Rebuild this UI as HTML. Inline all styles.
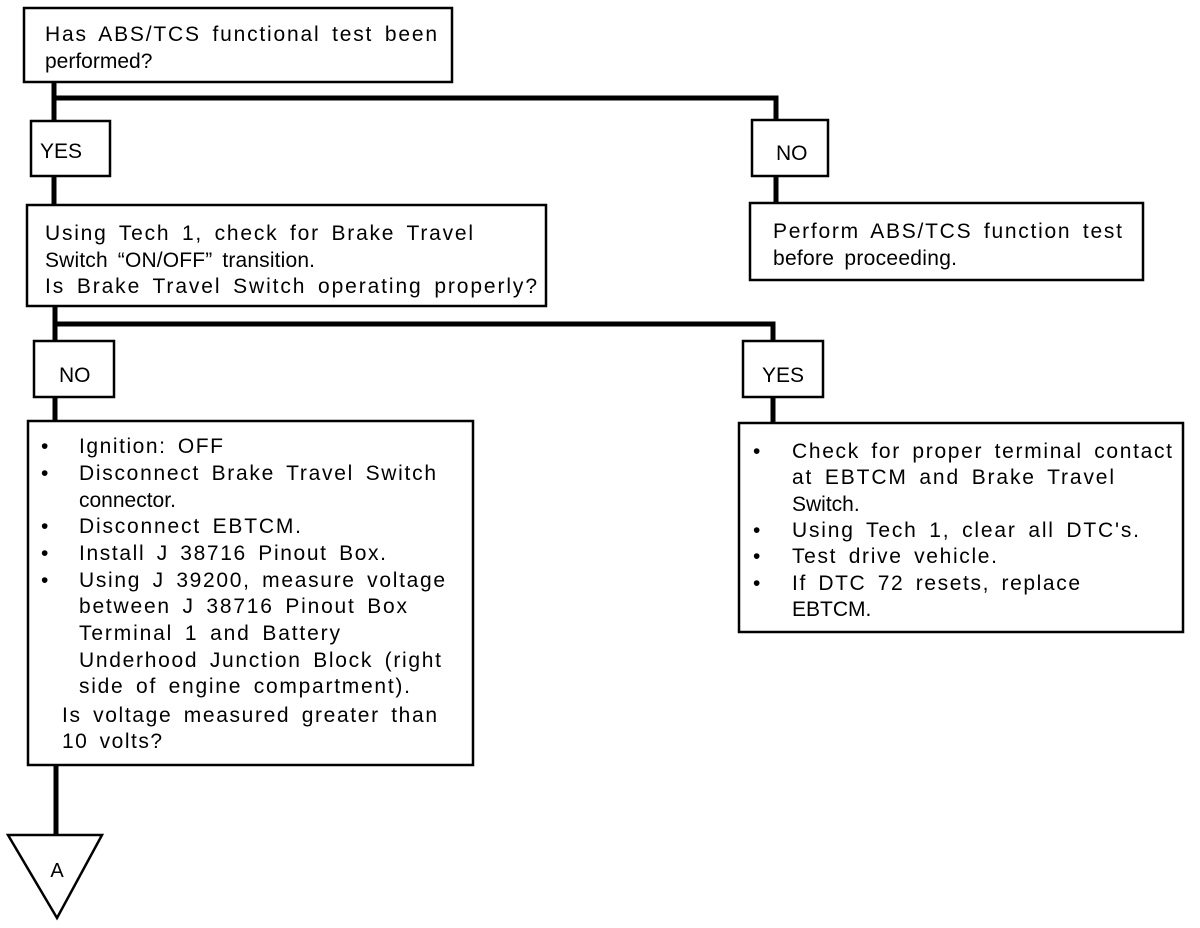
<!DOCTYPE html>
<html><head><meta charset="utf-8"><style>
html,body{margin:0;padding:0;background:#fff;}
svg{display:block;}
text{font-family:"Liberation Sans",Arial,sans-serif;font-size:21px;fill:#000;word-spacing:4px;}
</style></head><body>
<svg width="1200" height="928" viewBox="0 0 1200 928" xmlns="http://www.w3.org/2000/svg">
<g fill="none" stroke="#000">
<!-- connectors -->
<path d="M54 82 V206" stroke-width="5"/>
<path d="M52 98 H776 V203" stroke-width="5"/>
<path d="M55 306 V421" stroke-width="5"/>
<path d="M53 324 H773 V423" stroke-width="5"/>
<path d="M56 765 V835" stroke-width="5"/>
<!-- boxes -->
<g stroke-width="2.5" fill="#fff">
<rect x="24" y="8" width="428" height="74"/>
<rect x="31" y="121" width="79" height="55"/>
<rect x="27" y="205" width="519" height="101"/>
<rect x="752" y="120" width="76" height="56"/>
<rect x="750" y="203" width="393" height="77"/>
<rect x="34" y="341" width="80" height="56"/>
<rect x="743" y="341" width="80" height="56"/>
<rect x="28" y="421" width="445" height="344"/>
<rect x="739" y="423" width="444" height="209"/>
<polygon points="8,835 102,835 57,918"/>
</g>
</g>
<text x="45" y="41" textLength="392" lengthAdjust="spacing">Has ABS/TCS functional test been</text>
<text x="45" y="68">performed?</text>
<text x="40" y="158">YES</text>
<text x="45" y="240" textLength="428" lengthAdjust="spacing">Using Tech 1, check for Brake Travel</text>
<text x="45" y="267" textLength="270" lengthAdjust="spacing">Switch “ON/OFF” transition.</text>
<text x="45" y="293" textLength="492" lengthAdjust="spacing">Is Brake Travel Switch operating properly?</text>
<text x="776" y="160">NO</text>
<text x="773" y="238" textLength="349" lengthAdjust="spacing">Perform ABS/TCS function test</text>
<text x="773" y="265" textLength="184" lengthAdjust="spacing">before proceeding.</text>
<text x="59" y="382">NO</text>
<text x="762" y="382">YES</text>
<!-- left bullets -->
<text x="41" y="453">•</text><text x="41" y="480">•</text><text x="41" y="533">•</text><text x="41" y="560">•</text><text x="41" y="587">•</text>
<text x="79" y="453" textLength="144" lengthAdjust="spacing">Ignition: OFF</text>
<text x="79" y="480" textLength="357" lengthAdjust="spacing">Disconnect Brake Travel Switch</text>
<text x="79" y="507">connector.</text>
<text x="79" y="533" textLength="222" lengthAdjust="spacing">Disconnect EBTCM.</text>
<text x="79" y="560" textLength="307" lengthAdjust="spacing">Install J 38716 Pinout Box.</text>
<text x="79" y="587" textLength="366" lengthAdjust="spacing">Using J 39200, measure voltage</text>
<text x="79" y="613" textLength="328" lengthAdjust="spacing">between J 38716 Pinout Box</text>
<text x="79" y="640" textLength="261" lengthAdjust="spacing">Terminal 1 and Battery</text>
<text x="79" y="667" textLength="362" lengthAdjust="spacing">Underhood Junction Block (right</text>
<text x="79" y="693" textLength="331" lengthAdjust="spacing">side of engine compartment).</text>
<text x="62" y="722" textLength="375" lengthAdjust="spacing">Is voltage measured greater than</text>
<text x="62" y="748" textLength="100" lengthAdjust="spacing">10 volts?</text>
<!-- right bullets -->
<text x="753" y="458">•</text><text x="753" y="537">•</text><text x="753" y="563">•</text><text x="753" y="590">•</text>
<text x="792" y="458" textLength="380" lengthAdjust="spacing">Check for proper terminal contact</text>
<text x="792" y="484" textLength="322" lengthAdjust="spacing">at EBTCM and Brake Travel</text>
<text x="792" y="511">Switch.</text>
<text x="792" y="537" textLength="347" lengthAdjust="spacing">Using Tech 1, clear all DTC's.</text>
<text x="792" y="563" textLength="205" lengthAdjust="spacing">Test drive vehicle.</text>
<text x="792" y="590" textLength="288" lengthAdjust="spacing">If DTC 72 resets, replace</text>
<text x="792" y="616">EBTCM.</text>
<text x="57" y="877" text-anchor="middle" style="font-size:20px">A</text>
</svg>
</body></html>
